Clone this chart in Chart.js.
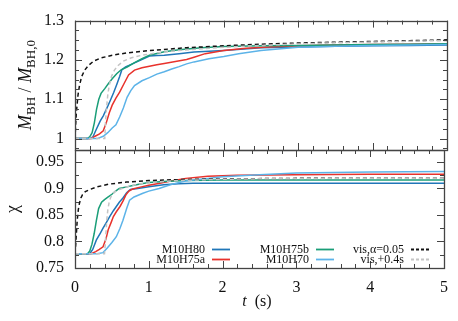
<!DOCTYPE html>
<html>
<head>
<meta charset="utf-8">
<title>BH mass and spin</title>
<script src="https://cdn.jsdelivr.net/npm/chart.js@4.4.1/dist/chart.umd.min.js"></script>
<style>
    html, body { margin: 0; padding: 0; background: #fff; }
    #wrap { position: relative; width: 458px; height: 321px; }
    #wrap canvas { position: absolute; left: 0; top: 0; }
</style>
</head>
<body>
<div id="wrap">
    <canvas id="massChart" width="458" height="321"></canvas>
    <canvas id="spinChart" width="458" height="321"></canvas>
</div>
<script>
// Tick values and labels
const xTickValues = [0, 1, 2, 3, 4, 5];
const massTickValues = [1, 1.1, 1.2, 1.3];
const spinTickValues = [0.75, 0.8, 0.85, 0.9, 0.95];

const seriesNames = ["M10H80", "M10H75a", "M10H75b", "M10H70", "vis,\u03b1=0.05", "vis,+0.4s"];
const seriesColors = ["#2076b8", "#e8322c", "#1a9e78", "#5cb3e8", "#111111", "#c4c4c4"];

// M_BH / M_BH,0 (top panel)
const massTimeH80 = [0, 0.2, 0.24, 0.29, 0.34, 0.38, 0.43, 0.47, 0.52, 0.56, 0.6, 0.63, 0.68, 0.75, 0.83, 0.92, 1.0, 1.1, 1.2, 1.4, 1.6, 2.0, 2.5, 3.0, 3.5, 4.0, 4.5, 5.0];
const massH80 = [1.0, 1.0, 1.004, 1.025, 1.045, 1.058, 1.078, 1.095, 1.117, 1.137, 1.158, 1.175, 1.182, 1.188, 1.195, 1.203, 1.21, 1.211, 1.212, 1.216, 1.22, 1.224, 1.231, 1.233, 1.235, 1.236, 1.237, 1.238];

const massTimeH75a = [0, 0.22, 0.27, 0.33, 0.38, 0.42, 0.46, 0.5, 0.55, 0.6, 0.66, 0.72, 0.8, 0.9, 1.0, 1.1, 1.2, 1.35, 1.5, 1.6, 1.75, 2.0, 2.3, 2.6, 3.0, 3.5, 4.0, 4.5, 5.0];
const massH75a = [1.0, 1.0, 1.006, 1.012, 1.02, 1.04, 1.065, 1.085, 1.103, 1.118, 1.14, 1.162, 1.174, 1.18, 1.184, 1.188, 1.191, 1.196, 1.201, 1.207, 1.216, 1.224, 1.23, 1.233, 1.236, 1.238, 1.239, 1.240, 1.241];

const massTimeH75b = [0, 0.17, 0.2, 0.23, 0.26, 0.29, 0.32, 0.35, 0.4, 0.45, 0.5, 0.56, 0.62, 0.7, 0.8, 0.9, 1.0, 1.2, 1.4, 1.7, 2.0, 2.5, 3.0, 3.5, 4.0, 4.5, 5.0];
const massH75b = [1.0, 1.0, 1.005, 1.015, 1.04, 1.075, 1.1, 1.115, 1.127, 1.14, 1.152, 1.165, 1.175, 1.182, 1.193, 1.203, 1.212, 1.221, 1.226, 1.231, 1.234, 1.236, 1.237, 1.238, 1.239, 1.240, 1.241];

const massTimeH70 = [0, 0.3, 0.38, 0.44, 0.5, 0.55, 0.6, 0.65, 0.7, 0.75, 0.8, 0.9, 1.0, 1.1, 1.2, 1.3, 1.4, 1.5, 1.6, 1.8, 2.0, 2.2, 2.5, 3.0, 3.5, 4.0, 4.5, 5.0];
const massH70 = [1.0, 1.0, 1.006, 1.015, 1.027, 1.035, 1.055, 1.078, 1.105, 1.122, 1.135, 1.147, 1.155, 1.164, 1.17, 1.177, 1.183, 1.19, 1.195, 1.203, 1.209, 1.216, 1.224, 1.232, 1.235, 1.237, 1.238, 1.239];

const massTimeVis = [0, 0.01, 0.02, 0.04, 0.06, 0.09, 0.13, 0.18, 0.25, 0.35, 0.5, 0.7, 1.0, 1.5, 2.0, 2.5, 3.0, 3.5, 4.0, 4.5, 5.0];
const massVis = [1.0, 1.04, 1.07, 1.11, 1.135, 1.158, 1.174, 1.186, 1.197, 1.205, 1.212, 1.218, 1.224, 1.231, 1.236, 1.240, 1.243, 1.245, 1.247, 1.249, 1.251];

const massTimeVisShift = [0, 0.4, 0.41, 0.42, 0.44, 0.46, 0.49, 0.53, 0.58, 0.65, 0.75, 0.9, 1.1, 1.4, 1.9, 2.4, 2.9, 3.4, 3.9, 4.4, 4.9, 5.0];
const massVisShift = [1.0, 1.0, 1.04, 1.07, 1.11, 1.135, 1.158, 1.174, 1.186, 1.197, 1.205, 1.212, 1.218, 1.224, 1.231, 1.236, 1.240, 1.243, 1.245, 1.247, 1.249, 1.249];

// chi (bottom panel)
const spinTimeH80 = [0, 0.2, 0.24, 0.29, 0.34, 0.38, 0.43, 0.47, 0.52, 0.56, 0.6, 0.65, 0.7, 0.75, 0.85, 1.0, 1.2, 1.4, 1.6, 2.0, 3.0, 4.0, 5.0];
const spinH80 = [0.777, 0.777, 0.785, 0.803, 0.815, 0.825, 0.837, 0.847, 0.858, 0.866, 0.874, 0.882, 0.892, 0.898, 0.9, 0.903, 0.907, 0.909, 0.91, 0.91, 0.91, 0.91, 0.91];

const spinTimeH75a = [0, 0.22, 0.28, 0.33, 0.38, 0.42, 0.45, 0.49, 0.52, 0.56, 0.61, 0.65, 0.69, 0.73, 0.78, 0.9, 1.0, 1.15, 1.3, 1.5, 1.8, 2.2, 3.0, 4.0, 5.0];
const spinH75a = [0.777, 0.777, 0.781, 0.785, 0.79, 0.805, 0.822, 0.836, 0.847, 0.856, 0.866, 0.876, 0.888, 0.895, 0.899, 0.903, 0.906, 0.91, 0.914, 0.919, 0.923, 0.925, 0.926, 0.927, 0.927];

const spinTimeH75b = [0, 0.17, 0.2, 0.23, 0.26, 0.29, 0.32, 0.36, 0.4, 0.45, 0.5, 0.55, 0.6, 0.7, 0.8, 0.9, 1.0, 1.2, 1.5, 2.0, 3.0, 4.0, 5.0];
const spinH75b = [0.777, 0.777, 0.782, 0.795, 0.815, 0.84, 0.862, 0.874, 0.879, 0.884, 0.889, 0.895, 0.9, 0.903, 0.906, 0.909, 0.911, 0.913, 0.915, 0.916, 0.916, 0.916, 0.916];

const spinTimeH70 = [0, 0.3, 0.38, 0.44, 0.5, 0.56, 0.61, 0.65, 0.7, 0.74, 0.8, 0.92, 1.0, 1.14, 1.25, 1.37, 1.5, 1.6, 1.8, 2.0, 2.5, 3.0, 4.0, 5.0];
const spinH70 = [0.777, 0.777, 0.779, 0.788, 0.798, 0.809, 0.825, 0.84, 0.862, 0.878, 0.884, 0.891, 0.895, 0.9, 0.905, 0.91, 0.914, 0.916, 0.919, 0.922, 0.926, 0.929, 0.931, 0.932];

const spinTimeVis = [0, 0.01, 0.02, 0.03, 0.045, 0.06, 0.08, 0.1, 0.14, 0.2, 0.3, 0.45, 0.7, 1.0, 1.5, 2.0, 3.0, 4.0, 5.0];
const spinVis = [0.777, 0.795, 0.818, 0.84, 0.86, 0.872, 0.882, 0.888, 0.894, 0.898, 0.903, 0.908, 0.912, 0.915, 0.917, 0.918, 0.919, 0.919, 0.919];

const spinTimeVisShift = [0, 0.4, 0.41, 0.42, 0.43, 0.445, 0.46, 0.48, 0.5, 0.54, 0.6, 0.7, 0.85, 1.1, 1.4, 1.9, 2.4, 3.4, 4.4, 5.0];
const spinVisShift = [0.777, 0.777, 0.795, 0.818, 0.84, 0.86, 0.872, 0.882, 0.888, 0.894, 0.898, 0.903, 0.908, 0.912, 0.915, 0.917, 0.918, 0.919, 0.919, 0.919];

const massSeries = [[massTimeH80, massH80], [massTimeH75a, massH75a], [massTimeH75b, massH75b], [massTimeH70, massH70], [massTimeVis, massVis], [massTimeVisShift, massVisShift]];
const spinSeries = [[spinTimeH80, spinH80], [spinTimeH75a, spinH75a], [spinTimeH75b, spinH75b], [spinTimeH70, spinH70], [spinTimeVis, spinVis], [spinTimeVisShift, spinVisShift]];

const FONT = "'Liberation Serif', 'DejaVu Serif', serif";
Chart.defaults.font.family = FONT;
Chart.defaults.color = "#111";

const points = (t, v) => t.map((x, i) => ({x: x, y: v[i]}));

function datasets(list) {
    return list.map(function (s, i) {
        return {
            label: seriesNames[i],
            data: points(s[0], s[1]),
            borderColor: seriesColors[i],
            borderWidth: 1.5,
            borderDash: i >= 4 ? [4, 3] : [],
            pointRadius: 0,
            tension: 0,
            order: 6 - i
        };
    });
}

/**
 * Frame plus inward ticks on all four sides.
 */
const frameTicks = {
    id: "frameTicks",
    afterDatasetsDraw(chart, args, opts) {
        const ctx = chart.ctx, a = chart.chartArea;
        const xs = chart.scales.x, ys = chart.scales.y;
        const isMajor = (v, step) => Math.abs(v / step - Math.round(v / step)) < 1e-6;
        ctx.save();
        ctx.strokeStyle = "#444";
        ctx.lineWidth = 1;
        ctx.beginPath();
        for (let i = 0; ; i++) {
            const v = xs.min + i * opts.xMinor;
            if (v > xs.max + 1e-9) break;
            const p = Math.round(xs.getPixelForValue(v)) + 0.5;
            const len = isMajor(v, opts.xMajor) ? 7 : 4;
            ctx.moveTo(p, a.bottom); ctx.lineTo(p, a.bottom - len);
            ctx.moveTo(p, a.top); ctx.lineTo(p, a.top + len);
        }
        const start = Math.ceil(ys.min / opts.yMinor - 1e-6);
        for (let k = start; k * opts.yMinor <= ys.max + 1e-9; k++) {
            const v = k * opts.yMinor;
            const p = Math.round(ys.getPixelForValue(v)) + 0.5;
            const len = isMajor(v, opts.yMajor) ? 7 : 4;
            ctx.moveTo(a.left, p); ctx.lineTo(a.left + len, p);
            ctx.moveTo(a.right, p); ctx.lineTo(a.right - len, p);
        }
        ctx.stroke();
        ctx.lineWidth = 1.3;
        ctx.strokeRect(Math.round(a.left) + 0.5, Math.round(a.top) + 0.5,
            Math.round(a.right - a.left), Math.round(a.bottom - a.top));
        ctx.restore();
    }
};

/**
 * Axis titles with mixed italic / subscript pieces.
 */
const axisTitles = {
    id: "axisTitles",
    afterDraw(chart, args, opts) {
        const ctx = chart.ctx;
        (opts.items || []).forEach(function (item) {
            ctx.save();
            ctx.fillStyle = "#111";
            ctx.textBaseline = "alphabetic";
            ctx.translate(item.x, item.y);
            if (item.rotate) {
                ctx.rotate(-Math.PI / 2);
            }
            let w = 0;
            item.parts.forEach(function (p) { ctx.font = p.font; w += ctx.measureText(p.text).width; });
            let x = -w / 2;
            item.parts.forEach(function (p) {
                ctx.font = p.font;
                ctx.fillText(p.text, x, p.dy || 0);
                x += ctx.measureText(p.text).width;
            });
            ctx.restore();
        });
    }
};

/**
 * Legend inside the lower panel: two rows, three columns.
 */
const legendSlots = [
    {right: 205, y: 249}, {right: 205, y: 259},
    {right: 309, y: 249}, {right: 309, y: 259},
    {right: 404, y: 249}, {right: 404, y: 259}
];
const innerLegend = {
    id: "innerLegend",
    afterDraw(chart) {
        const ctx = chart.ctx;
        ctx.save();
        ctx.font = "12px " + FONT;
        ctx.textAlign = "right";
        ctx.textBaseline = "middle";
        chart.data.datasets.forEach(function (ds, i) {
            const s = legendSlots[i];
            ctx.fillStyle = "#111";
            ctx.fillText(ds.label, s.right, s.y + 0.5);
            ctx.strokeStyle = ds.borderColor;
            ctx.lineWidth = 1.8;
            ctx.setLineDash(ds.borderDash.length ? [3, 2] : []);
            ctx.beginPath();
            ctx.moveTo(s.right + 7, s.y + 0.5);
            ctx.lineTo(s.right + (i >= 4 ? 26 : 25), s.y + 0.5);
            ctx.stroke();
        });
        ctx.restore();
    }
};

const setTicks = (values) => function (scale) {
    scale.ticks = values.map(v => ({value: v}));
};

// Top panel
new Chart(document.getElementById("massChart"), {
    type: "line",
    data: {datasets: datasets(massSeries)},
    options: {
        responsive: false,
        animation: false,
        layout: {padding: {top: 17, bottom: 171, left: 0, right: 11}},
        scales: {
            x: {type: "linear", min: 0, max: 5, display: false},
            y: {
                type: "linear", min: 0.971, max: 1.3,
                grid: {display: false, drawTicks: false},
                border: {display: false},
                afterBuildTicks: setTicks(massTickValues),
                afterFit: function (s) { s.width = 75; },
                ticks: {padding: 11, font: {size: 16}, callback: v => String(v)}
            }
        },
        plugins: {
            legend: {display: false},
            tooltip: {enabled: false},
            frameTicks: {xMinor: 0.2, xMajor: 1, yMinor: 0.025, yMajor: 0.1},
            axisTitles: {
                items: [{
                    x: 31, y: 85, rotate: true,
                    parts: [
                        {text: "M", font: "italic 18px " + FONT},
                        {text: "BH", font: "13px " + FONT, dy: 4},
                        {text: " / ", font: "18px " + FONT},
                        {text: "M", font: "italic 18px " + FONT},
                        {text: "BH,0", font: "13px " + FONT, dy: 4}
                    ]
                }]
            }
        }
    },
    plugins: [frameTicks, axisTitles]
});

// Bottom panel
new Chart(document.getElementById("spinChart"), {
    type: "line",
    data: {datasets: datasets(spinSeries)},
    options: {
        responsive: false,
        animation: false,
        layout: {padding: {top: 150, bottom: 0, left: 0, right: 11}},
        scales: {
            x: {
                type: "linear", min: 0, max: 5,
                grid: {display: false, drawTicks: false},
                border: {display: false},
                afterBuildTicks: setTicks(xTickValues),
                afterFit: function (s) { s.height = 53; },
                ticks: {padding: 10, font: {size: 16}, maxRotation: 0, callback: v => String(v)}
            },
            y: {
                type: "linear", min: 0.75, max: 0.9725,
                grid: {display: false, drawTicks: false},
                border: {display: false},
                afterBuildTicks: setTicks(spinTickValues),
                afterFit: function (s) { s.width = 75; },
                ticks: {padding: 11, font: {size: 16}, callback: v => String(v)}
            }
        },
        plugins: {
            legend: {display: false},
            tooltip: {enabled: false},
            frameTicks: {xMinor: 0.2, xMajor: 1, yMinor: 0.025, yMajor: 0.05},
            axisTitles: {
                items: [{
                    x: 18, y: 209, rotate: true,
                    parts: [{text: "\u03c7", font: "18px " + FONT}]
                }, {
                    x: 257, y: 306, rotate: false,
                    parts: [
                        {text: "t", font: "italic 16px " + FONT},
                        {text: "  (s)", font: "16px " + FONT}
                    ]
                }]
            }
        }
    },
    plugins: [frameTicks, axisTitles, innerLegend]
});
</script>
</body>
</html>
